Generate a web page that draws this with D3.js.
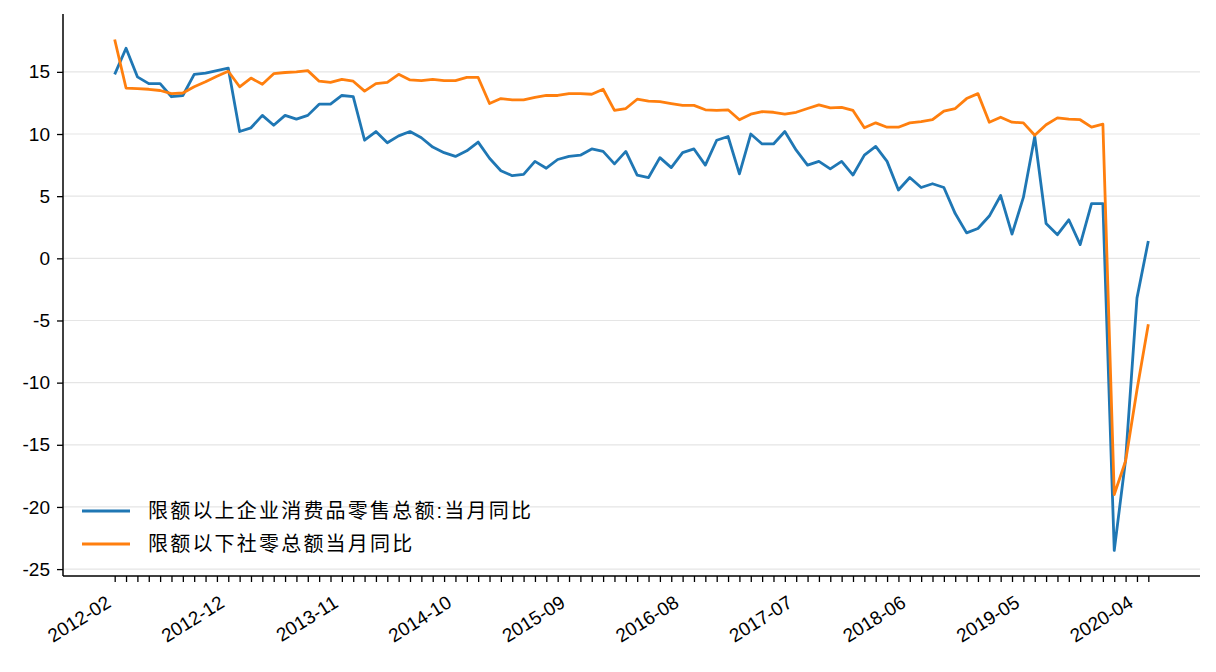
<html>
<head>
<meta charset="utf-8">
<script src="https://d3js.org/d3.v7.min.js"></script>
<style>
  body { margin: 0; background: #fff; }
  text { font-family: "Liberation Sans", Arial, "Noto Sans CJK SC", sans-serif; }
</style>
</head>
<body>
<svg width="1216" height="672"></svg>
<script>
// months (Jan is merged into Feb in the source data)
const months = [
  "2012-02","2012-03","2012-04","2012-05","2012-06","2012-07","2012-08","2012-09","2012-10","2012-11","2012-12",
  "2013-02","2013-03","2013-04","2013-05","2013-06","2013-07","2013-08","2013-09","2013-10","2013-11","2013-12",
  "2014-02","2014-03","2014-04","2014-05","2014-06","2014-07","2014-08","2014-09","2014-10","2014-11","2014-12",
  "2015-02","2015-03","2015-04","2015-05","2015-06","2015-07","2015-08","2015-09","2015-10","2015-11","2015-12",
  "2016-02","2016-03","2016-04","2016-05","2016-06","2016-07","2016-08","2016-09","2016-10","2016-11","2016-12",
  "2017-02","2017-03","2017-04","2017-05","2017-06","2017-07","2017-08","2017-09","2017-10","2017-11","2017-12",
  "2018-02","2018-03","2018-04","2018-05","2018-06","2018-07","2018-08","2018-09","2018-10","2018-11","2018-12",
  "2019-02","2019-03","2019-04","2019-05","2019-06","2019-07","2019-08","2019-09","2019-10","2019-11","2019-12",
  "2020-02","2020-03","2020-04","2020-05"
];

const above = [
  14.8, 16.9, 14.6, 14.05, 14.05, 13.0, 13.1, 14.8, 14.9, 15.1, 15.3,
  10.2, 10.5, 11.5, 10.7, 11.5, 11.2, 11.5, 12.4, 12.4, 13.1, 13.0,
  9.5, 10.2, 9.3, 9.85, 10.2, 9.7, 8.95, 8.5, 8.2, 8.65, 9.35,
  8.05, 7.05, 6.65, 6.75, 7.8, 7.25, 7.95, 8.2, 8.3, 8.8, 8.6,
  7.6, 8.6, 6.7, 6.5, 8.1, 7.3, 8.5, 8.8, 7.5, 9.5, 9.8,
  6.8, 10.0, 9.2, 9.2, 10.2, 8.7, 7.5, 7.8, 7.2, 7.8, 6.7,
  8.3, 9.0, 7.8, 5.5, 6.5, 5.7, 6.0, 5.7, 3.6, 2.05, 2.4,
  3.4, 5.05, 1.95, 4.9, 9.8, 2.8, 1.9, 3.1, 1.1, 4.4, 4.4,
  -23.5, -16.2, -3.2, 1.4
];

const below = [
  17.6, 13.7, 13.65, 13.6, 13.5, 13.25, 13.3, 13.8, 14.2, 14.65, 15.05,
  13.8, 14.5, 14.0, 14.85, 14.95, 15.0, 15.1, 14.25, 14.15, 14.4, 14.25,
  13.45, 14.05, 14.15, 14.8, 14.35, 14.3, 14.4, 14.3, 14.3, 14.55, 14.55,
  12.45, 12.85, 12.75, 12.75, 12.95, 13.1, 13.1, 13.25, 13.25, 13.2, 13.6,
  11.9, 12.05, 12.8, 12.65, 12.6, 12.45, 12.3, 12.3, 11.95, 11.9, 11.95,
  11.15, 11.6, 11.8, 11.75, 11.6, 11.75, 12.05, 12.35, 12.1, 12.15, 11.9,
  10.5, 10.9, 10.55, 10.55, 10.9, 11.0, 11.15, 11.85, 12.05, 12.85, 13.25,
  10.95, 11.35, 10.95, 10.9, 9.9, 10.75, 11.3, 11.2, 11.15, 10.55, 10.8,
  -19.0, -16.3, -10.6, -5.3
];

const seriesNames = ["限额以上企业消费品零售总额:当月同比", "限额以下社零总额当月同比"];
const colors = ["#1f77b4", "#ff7f0e"];
const yTicks = [-25, -20, -15, -10, -5, 0, 5, 10, 15];

const svg = d3.select("svg");
const plotL = 63, plotR = 1200, plotT = 14, plotB = 576;

// matplotlib-like 5% margins
const n = months.length;
const xPad = (n - 1) * 0.05;
const x = d3.scaleLinear().domain([-xPad, n - 1 + xPad]).range([plotL, plotR]);

const [ymin, ymax] = d3.extent(above.concat(below));
const yPad = (ymax - ymin) * 0.05;
const y = d3.scaleLinear().domain([ymin - yPad, ymax + yPad]).range([plotB, plotT]);

// grid
svg.append("g")
    .selectAll("line")
    .data(yTicks)
    .enter()
    .append("line")
    .attr("x1", plotL)
    .attr("x2", plotR)
    .attr("y1", d => y(d))
    .attr("y2", d => y(d))
    .attr("stroke", "#e5e5e5")
    .attr("stroke-width", 1.2);

// y axis
const yAxis = svg.append("g")
    .attr("transform", `translate(${plotL},0)`)
    .call(d3.axisLeft(y).tickValues(yTicks).tickSize(6).tickPadding(7).tickFormat(d => d));
yAxis.select(".domain").attr("d", `M0,${plotT}V${plotB}`).attr("stroke", "#000").attr("stroke-width", 1.5);
yAxis.selectAll(".tick line").attr("stroke", "#000").attr("stroke-width", 1.3);
yAxis.selectAll(".tick text").attr("font-size", 19).attr("fill", "#000");

// x axis
const xAxis = svg.append("g")
    .attr("transform", `translate(0,${plotB})`)
    .call(d3.axisBottom(x)
        .tickValues(d3.range(n))
        .tickSize(6)
        .tickFormat(i => i % 10 === 0 ? months[i] : ""));
xAxis.select(".domain").attr("d", `M${plotL},0H${plotR}`).attr("stroke", "#000").attr("stroke-width", 1.5);
xAxis.selectAll(".tick line").attr("stroke", "#000").attr("stroke-width", 1.3);
xAxis.selectAll(".tick text")
    .attr("font-size", 19)
    .attr("fill", "#000")
    .attr("text-anchor", "end")
    .attr("y", 0)
    .attr("dy", 0)
    .attr("transform", "translate(-3,30) rotate(-32)");

// lines
const line = d3.line()
    .x((d, i) => x(i))
    .y(d => y(d));

[above, below].forEach((s, k) => {
    svg.append("path")
        .datum(s)
        .attr("fill", "none")
        .attr("stroke", colors[k])
        .attr("stroke-width", 2.8)
        .attr("stroke-linejoin", "round")
        .attr("d", line);
});

// legend
const legend = svg.append("g").attr("transform", "translate(82,511)");
seriesNames.forEach((name, k) => {
    const g = legend.append("g").attr("transform", `translate(0,${k * 33})`);
    g.append("line")
        .attr("x1", 0).attr("x2", 48)
        .attr("stroke", colors[k])
        .attr("stroke-width", 2.8);
    g.append("text")
        .attr("x", 66)
        .attr("y", 7)
        .attr("font-size", 20)
        .attr("letter-spacing", 2.2)
        .attr("fill", "#000")
        .text(name);
});
</script>
</body>
</html>
